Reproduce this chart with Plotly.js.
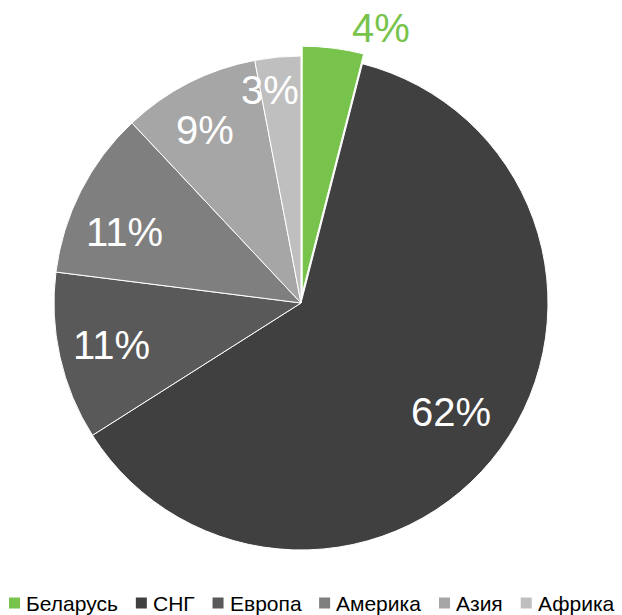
<!DOCTYPE html>
<html>
<head>
<meta charset="utf-8">
<script src="https://cdn.plot.ly/plotly-3.0.1.min.js"></script>
<style>html,body{margin:0;padding:0;background:#fff;}#chart{width:622px;height:615px;}</style>
</head>
<body>
<div id="chart"></div>
<script>
const regions = ["Беларусь", "СНГ", "Европа", "Америка", "Азия", "Африка"];
const shares = [4, 62, 11, 11, 9, 3];
const colors = ["#77C34B", "#404040", "#595959", "#7F7F7F", "#A6A6A6", "#BFBFBF"];
const pulls = [0.04, 0, 0, 0, 0, 0];
// label placement styling (fraction of radius, angular nudge in degrees)
const labelRadius = [1.16, 0.75, 0.785, 0.77, 0.80, 0.87];
const labelNudge = [9, 0, 0, -5, -2, -3];
const labelColor = ["#77C34B", "#ffffff", "#ffffff", "#ffffff", "#ffffff", "#ffffff"];

const W = 622, H = 615;
const cx = 301, cy = 303, R = 247;
const Rd = R * (1 + Math.max(...pulls));
const FONT = "Liberation Sans, Arial, sans-serif";

const trace = {
  type: "pie",
  labels: regions,
  values: shares,
  sort: false,
  direction: "clockwise",
  rotation: 0,
  pull: pulls,
  marker: {colors: colors, line: {color: "#ffffff", width: 1}},
  textinfo: "none",
  hoverinfo: "none",
  showlegend: false,
  domain: {
    x: [(cx - Rd) / W, (cx + Rd) / W],
    y: [(H - cy - Rd) / H, (H - cy + Rd) / H]
  }
};

// percentage labels placed at each slice's mid-angle, derived from the data
const total = shares.reduce((a, b) => a + b, 0);
const annotations = [];
const shapes = [];
let cum = 0;
shares.forEach((v, i) => {
  const frac = v / total;
  const mid = (cum + frac / 2) * 360 + labelNudge[i];
  cum += frac;
  const a = mid * Math.PI / 180;
  const r = R * labelRadius[i];
  annotations.push({
    xref: "paper", yref: "paper",
    x: (cx + r * Math.sin(a)) / W,
    y: (H - cy + r * Math.cos(a)) / H,
    xanchor: "center", yanchor: "middle",
    showarrow: false,
    text: Math.round(frac * 100) + "%",
    font: {family: FONT, size: 40, color: labelColor[i]}
  });
});

// legend row (square swatch + name), laid out from measured text widths
const LEG_SIZE = 21, SW = 11, SW_GAP = 5, ITEM_GAP = 19;
const legY = 603;
const ctx = document.createElement("canvas").getContext("2d");
ctx.font = LEG_SIZE + "px 'Liberation Sans'";
let lx = 9;
regions.forEach((name, i) => {
  const tw = ctx.measureText(name).width;
  shapes.push({
    type: "rect", xref: "paper", yref: "paper",
    x0: lx / W, x1: (lx + SW) / W,
    y0: (H - legY - SW / 2) / H, y1: (H - legY + SW / 2) / H,
    fillcolor: colors[i], line: {width: 0}
  });
  annotations.push({
    xref: "paper", yref: "paper",
    x: (lx + SW + SW_GAP) / W, y: (H - legY) / H,
    xanchor: "left", yanchor: "middle",
    showarrow: false, borderpad: 0,
    text: name,
    font: {family: FONT, size: LEG_SIZE, color: "#000000"}
  });
  lx += SW + SW_GAP + tw + ITEM_GAP;
});

const layout = {
  width: W, height: H,
  margin: {l: 0, r: 0, t: 0, b: 0},
  paper_bgcolor: "#ffffff",
  showlegend: false,
  annotations: annotations,
  shapes: shapes,
  font: {family: FONT}
};

Plotly.newPlot("chart", [trace], layout, {displayModeBar: false, staticPlot: true});
</script>
</body>
</html>
